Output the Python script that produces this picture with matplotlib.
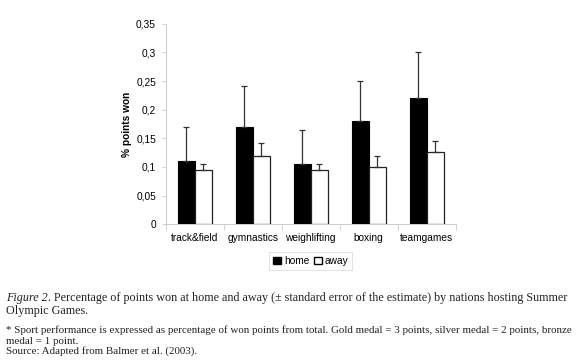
import matplotlib
matplotlib.use("Agg")
import matplotlib.pyplot as plt
from matplotlib.patches import Patch
import numpy as np

categories = ["track&field", "gymnastics", "weighlifting", "boxing", "teamgames"]
home = [0.11, 0.17, 0.105, 0.18, 0.221]
home_err = [0.06, 0.071, 0.06, 0.07, 0.079]
away = [0.095, 0.12, 0.095, 0.10, 0.126]
away_err = [0.01, 0.021, 0.01, 0.02, 0.019]
yticks = [0, 0.05, 0.1, 0.15, 0.2, 0.25, 0.3, 0.35]
ytick_labels = ["0", "0,05", "0,1", "0,15", "0,2", "0,25", "0,3", "0,35"]

W, H = 580, 363
fig = plt.figure(figsize=(W / 100, H / 100), dpi=100)
fig.patch.set_facecolor("white")

sans = "Liberation Sans"
serif = "Liberation Serif"

ax = fig.add_axes([165.7 / W, 1 - 224.3 / H, 290 / W, 200.6 / H])
x = np.arange(len(categories))
bw = 0.29
ax.bar(x - bw / 2, home, bw, color="black", edgecolor="black", linewidth=0.8,
       yerr=[np.zeros(len(home)), home_err], error_kw=dict(ecolor="#333333", elinewidth=0.9, capsize=2, capthick=0.9))
ax.bar(x + bw / 2, away, bw, color="white", edgecolor="#222222", linewidth=0.9,
       yerr=[np.zeros(len(away)), away_err], error_kw=dict(ecolor="#333333", elinewidth=0.9, capsize=2, capthick=0.9))

ax.set_xlim(-0.5, len(categories) - 0.5)
ax.set_ylim(0, 0.35)
ax.set_yticks(yticks)
ax.set_yticklabels(ytick_labels, fontfamily=sans, fontsize=7.3)
ax.set_xticks(x)
ax.set_xticklabels(categories, fontfamily=sans, fontsize=7.3)
ax.tick_params(axis="x", length=0, pad=6)
ax.set_xticks(np.arange(-0.5, len(categories), 1), minor=True)
ax.tick_params(axis="x", which="minor", length=4, color="#cccccc", width=0.6)
ax.tick_params(axis="y", length=3, color="#cccccc", width=0.6, pad=4)
for s in ["top", "right"]:
    ax.spines[s].set_visible(False)
for s in ["left", "bottom"]:
    ax.spines[s].set_color("#cccccc")
    ax.spines[s].set_linewidth(0.7)
ax.set_ylabel("% points won", fontfamily=sans, fontsize=7.3, fontweight="bold", labelpad=3)

handles = [Patch(facecolor="black", edgecolor="black", label="home"),
           Patch(facecolor="white", edgecolor="black", label="away")]
leg = fig.legend(handles=handles, loc="center", bbox_to_anchor=(310.7 / W, 1 - 261 / H), ncol=2,
                 prop=dict(family=sans, size=7.3), handlelength=0.8, handleheight=0.8,
                 handletextpad=0.3, columnspacing=0.4, borderpad=0.35, fancybox=False,
                 edgecolor="#dddddd", framealpha=1)
leg.get_frame().set_linewidth(0.6)

fig.canvas.draw()
renderer = fig.canvas.get_renderer()
tc = "#222222"

line1_rest = ". Percentage of points won at home and away (\u00b1 standard error of the estimate) by nations hosting Summer"
line3 = "* Sport performance is expressed as percentage of won points from total. Gold medal = 3 points, silver medal = 2 points, bronze"

# fit caption font size to the reference width
probe_a = fig.text(0, 0, "Figure 2", fontfamily=serif, fontstyle="italic", fontsize=10)
probe_b = fig.text(0, 0, line1_rest, fontfamily=serif, fontsize=10)
wa = probe_a.get_window_extent(renderer).width + probe_b.get_window_extent(renderer).width
cap_size = 10 * (570 - 6) / wa
probe_c = fig.text(0, 0, line3, fontfamily=serif, fontsize=10)
small = 10 * (567 - 6) / probe_c.get_window_extent(renderer).width
for p in (probe_a, probe_b, probe_c):
    p.remove()

x0 = 6 / W
t1 = fig.text(x0, 1 - 298 / H, "Figure 2", fontfamily=serif, fontstyle="italic", fontsize=cap_size,
              va="center", ha="left", color=tc)
bb = t1.get_window_extent(renderer)
fig.text(bb.x1 / W, 1 - 298 / H, line1_rest, fontfamily=serif, fontsize=cap_size, va="center", ha="left", color=tc)
fig.text(x0, 1 - 311 / H, "Olympic Games.", fontfamily=serif, fontsize=cap_size, va="center", ha="left", color=tc)
fig.text(x0, 1 - 330 / H, line3, fontfamily=serif, fontsize=small, va="center", ha="left", color=tc)
fig.text(x0, 1 - 341 / H, "medal = 1 point.", fontfamily=serif, fontsize=small, va="center", ha="left", color=tc)
fig.text(x0, 1 - 351.5 / H, "Source: Adapted from Balmer et al. (2003).", fontfamily=serif, fontsize=small,
         va="center", ha="left", color=tc)

fig.savefig("out.png", dpi=100)
